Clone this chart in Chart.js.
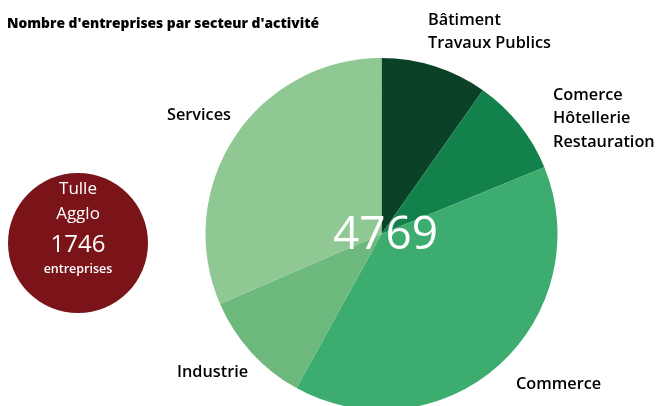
<!DOCTYPE html>
<html>
<head>
<meta charset="utf-8">
<script src="https://cdn.jsdelivr.net/npm/chart.js@4"></script>
<style>
html,body{margin:0;padding:0;background:#fff;}
#wrap{position:relative;width:659px;height:406px;}
</style>
</head>
<body>
<div id="wrap"><canvas id="c" width="659" height="406"></canvas></div>
<script>
const title = "Nombre d'entreprises par secteur d'activité";
const categories = [
  ["Bâtiment", "Travaux Publics"],
  ["Comerce", "Hôtellerie", "Restauration"],
  ["Commerce"],
  ["Industrie"],
  ["Services"]
];
const values = [466, 431, 1870, 499, 1503];
const colors = ["#0b4227", "#13814c", "#3dac6f", "#6db87c", "#8fc892"];
const totalLabel = "4769";
const agglo = { lines: ["Tulle", "Agglo"], value: "1746", unit: "entreprises" };

const labelPos = [
  {x: 428, y: 20},
  {x: 553, y: 95},
  {x: 516, y: 384},
  {x: 177, y: 372},
  {x: 167, y: 115}
];

const overlay = {
  id: 'overlay',
  afterDraw(chart) {
    const ctx = chart.ctx;
    ctx.save();
    ctx.fillStyle = '#000';
    ctx.textBaseline = 'middle';
    ctx.textAlign = 'left';
    ctx.font = '800 13.8px "Open Sans"';
    ctx.fillText(title, 7, 24);
    ctx.font = '600 16.3px "Open Sans"';
    categories.forEach((lines, i) => {
      lines.forEach((t, j) => ctx.fillText(t, labelPos[i].x, labelPos[i].y + j * 23.5));
    });
    const arc = chart.getDatasetMeta(0).data[0];
    ctx.fillStyle = '#fff';
    ctx.textAlign = 'center';
    ctx.font = '400 46px "Open Sans"';
    ctx.fillText(totalLabel, arc.x + 4, arc.y + 2);
    ctx.beginPath();
    ctx.arc(78, 243, 70, 0, Math.PI * 2);
    ctx.fillStyle = '#7b1418';
    ctx.fill();
    ctx.fillStyle = '#fff';
    ctx.font = '500 17px "Open Sans"';
    ctx.fillText(agglo.lines[0], 78, 189);
    ctx.fillText(agglo.lines[1], 78, 214);
    ctx.font = '500 24px "Open Sans"';
    ctx.fillText(agglo.value, 78, 245);
    ctx.font = '600 12.5px "Open Sans"';
    ctx.fillText(agglo.unit, 78, 269);
    ctx.restore();
  }
};

new Chart(document.getElementById('c'), {
  type: 'pie',
  data: {
    labels: categories.map(l => l.join(' ')),
    datasets: [{ data: values, backgroundColor: colors, borderWidth: 0 }]
  },
  options: {
    responsive: false,
    animation: false,
    radius: 176,
    layout: { padding: { top: 62, bottom: 0, left: 104, right: 0 } },
    plugins: { legend: { display: false }, tooltip: { enabled: false } }
  },
  plugins: [overlay]
});
</script>
</body>
</html>
